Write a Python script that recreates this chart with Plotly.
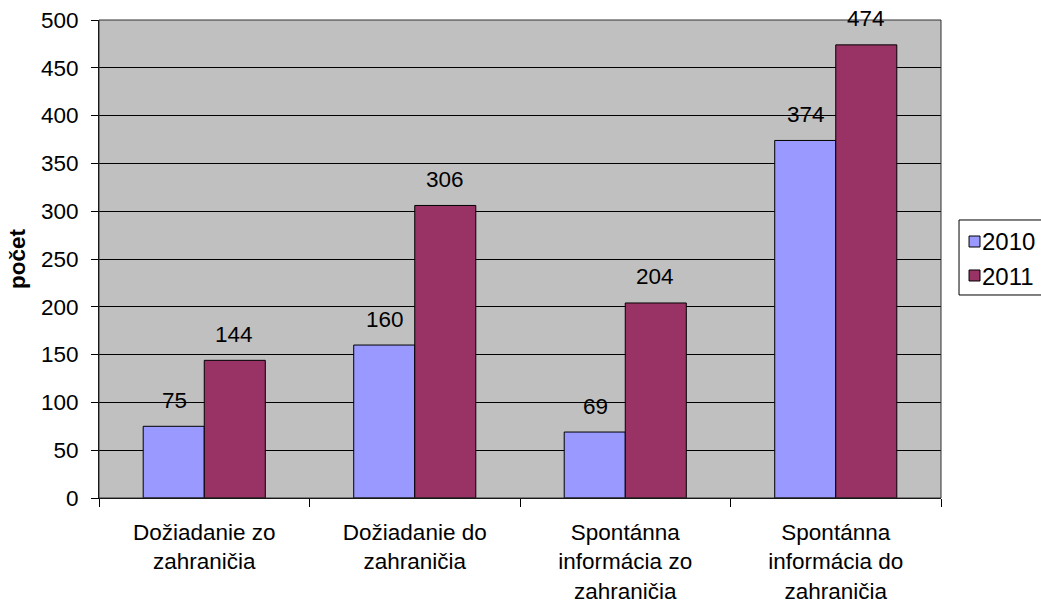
import plotly.graph_objects as go

categories = [
    "Dožiadanie zo<br>zahraničia",
    "Dožiadanie do<br>zahraničia",
    "Spontánna<br>informácia zo<br>zahraničia",
    "Spontánna<br>informácia do<br>zahraničia",
]
years = ["2010", "2011"]
values_2010 = [75, 160, 69, 374]
values_2011 = [144, 306, 204, 474]
y_ticks = list(range(0, 501, 50))

colors = {"2010": "#9999FF", "2011": "#993366"}
FONT = "Liberation Sans, Arial, sans-serif"
FS = 22.5
LEGEND_FS = 24

fig = go.Figure()
for name, vals in zip(years, [values_2010, values_2011]):
    fig.add_trace(go.Bar(
        x=categories, y=vals, name=name, showlegend=False,
        marker=dict(color=colors[name], line=dict(color="black", width=1)),
    ))

# value labels floating above each bar
for i, (name, vals) in enumerate(zip(years, [values_2010, values_2011])):
    shift = -30 if i == 0 else 30
    for c, v in zip(categories, vals):
        fig.add_annotation(
            x=c, y=v, text=str(v), showarrow=False, xref="x", yref="y",
            xshift=shift, yshift=26, yanchor="middle",
            font=dict(family=FONT, size=FS, color="black"),
        )

# plot area frame
fig.add_shape(type="rect", xref="paper", yref="paper", x0=0, y0=0, x1=1, y1=1,
              line=dict(color="#303030", width=1), layer="above")

# compact legend box to the right of the plot area
fig.add_shape(type="rect", xref="paper", yref="paper",
              x0=1.0214, x1=1.125, y0=0.4247, y1=0.5816,
              line=dict(color="black", width=1), fillcolor="white")
legend_rows = [(0.5366, 0.5362, "2010"), (0.4655, 0.4630, "2011")]
for ys, yt, name in legend_rows:
    fig.add_shape(type="rect", xref="paper", yref="paper",
                  x0=1.0333, x1=1.0463, y0=ys - 0.0115, y1=ys + 0.0115,
                  line=dict(color="black", width=1), fillcolor=colors[name])
    fig.add_annotation(x=1.0463, y=yt, xref="paper", yref="paper", text=name,
                       showarrow=False, xanchor="left", yanchor="middle",
                       font=dict(family=FONT, size=LEGEND_FS, color="black"))

fig.update_layout(
    width=1041, height=603,
    margin=dict(l=99, r=100, t=20, b=105, autoexpand=False),
    paper_bgcolor="white", plot_bgcolor="#C0C0C0",
    barmode="group", bargap=0.42, bargroupgap=0,
    font=dict(family=FONT, size=FS, color="black"),
    showlegend=False,
    xaxis=dict(
        showline=True, linecolor="black", linewidth=1,
        ticks="outside", tickson="boundaries", ticklen=8, tickcolor="black",
        showgrid=False, tickfont=dict(family=FONT, size=FS),
        ticklabelstandoff=14,
    ),
    yaxis=dict(
        range=[0, 500], tickvals=y_ticks, showline=True, linecolor="black",
        linewidth=1, ticks="outside", ticklen=7, tickcolor="black",
        showgrid=True, gridcolor="black", gridwidth=1,
        tickfont=dict(family=FONT, size=FS), ticklabelstandoff=8,
        title=dict(text="<b>počet</b>", font=dict(family=FONT, size=FS), standoff=9),
        zeroline=False,
    ),
)

fig.write_html("out.html")
